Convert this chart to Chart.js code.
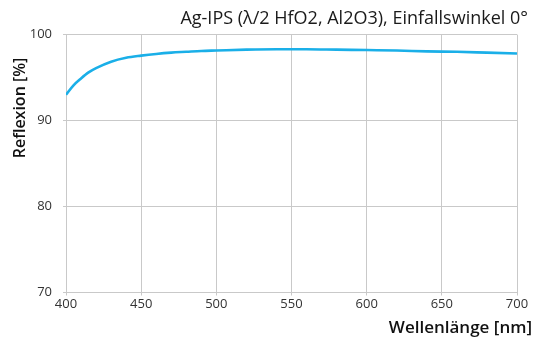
<!DOCTYPE html>
<html>
<head>
<meta charset="utf-8">
<script src="https://cdn.jsdelivr.net/npm/chart.js@4.4.1/dist/chart.umd.min.js"></script>
<style>
  html, body { margin: 0; padding: 0; background: #fff; }
  #wrap { width: 534px; height: 340px; position: relative; }
</style>
</head>
<body>
<div id="wrap"><canvas id="chart"></canvas></div>
<script>
// Ag-IPS reflectance
const wavelengths = [400, 405, 410, 415, 420, 430, 440, 450, 460, 470, 480, 490, 500, 520, 540, 560, 580, 600, 620, 640, 660, 680, 700];
const reflexion   = [93.0, 94.1, 94.9, 95.6, 96.1, 96.85, 97.3, 97.55, 97.75, 97.9, 98.0, 98.1, 98.15, 98.25, 98.3, 98.3, 98.25, 98.2, 98.15, 98.05, 98.0, 97.9, 97.8];
const xTicks = [400, 450, 500, 550, 600, 650, 700];
const yTicks = [70, 80, 90, 100];

const titleText = 'Ag-IPS (\u03bb/2 HfO2, Al2O3), Einfallswinkel 0\u00b0';
const xTitle = 'Wellenl\u00e4nge [nm]';
const yTitle = 'Reflexion [%]';

const gridColor = '#c9c9c9';
const lineColor = '#1aafe8';

Chart.defaults.font.family = "'Open Sans', sans-serif";

// axis titles drawn outside the chart area like the original
const axisTitles = {
    id: 'axisTitles',
    afterDraw(chart) {
        const ctx = chart.ctx;
        const area = chart.chartArea;
        ctx.save();
        ctx.fillStyle = '#111';
        ctx.font = "600 17px 'Open Sans', sans-serif";
        ctx.textAlign = 'right';
        ctx.textBaseline = 'alphabetic';
        ctx.fillText(xTitle, area.right + 15, 333);
        ctx.font = "600 16px 'Open Sans', sans-serif";
        ctx.translate(25, 108);
        ctx.rotate(-Math.PI / 2);
        ctx.textAlign = 'center';
        ctx.fillText(yTitle, 0, 0);
        ctx.restore();
    }
};

const ctx = document.getElementById('chart').getContext('2d');
new Chart(ctx, {
    type: 'line',
    data: {
        datasets: [{
            data: wavelengths.map((w, i) => ({ x: w, y: reflexion[i] })),
            borderColor: lineColor,
            borderWidth: 2.6,
            pointRadius: 0,
            cubicInterpolationMode: 'monotone',
            fill: false
        }]
    },
    options: {
        responsive: true,
        maintainAspectRatio: false,
        animation: false,
        layout: { padding: { left: 0, right: 6, top: 0, bottom: 0 } },
        plugins: {
            legend: { display: false },
            tooltip: { enabled: false },
            title: {
                display: true,
                text: titleText,
                align: 'end',
                color: '#1a1a1a',
                font: { size: 18, weight: 'normal' },
                padding: { top: 8, bottom: 5 }
            }
        },
        scales: {
            x: {
                type: 'linear',
                min: 400,
                max: 700,
                afterBuildTicks: s => { s.ticks = xTicks.map(v => ({ value: v })); },
                afterFit: s => { s.height = 47.5; s.paddingRight = 17; },
                grid: { color: gridColor, tickLength: 3 },
                border: { color: gridColor },
                ticks: { color: '#333', font: { size: 13 }, padding: 1, maxRotation: 0 }
            },
            y: {
                min: 70,
                max: 100,
                afterBuildTicks: s => { s.ticks = yTicks.map(v => ({ value: v })); },
                afterFit: s => { s.width = 66; },
                grid: { color: gridColor, tickLength: 3 },
                border: { color: gridColor },
                ticks: { color: '#333', font: { size: 13 }, padding: 11 }
            }
        }
    },
    plugins: [axisTitles]
});
</script>
</body>
</html>
